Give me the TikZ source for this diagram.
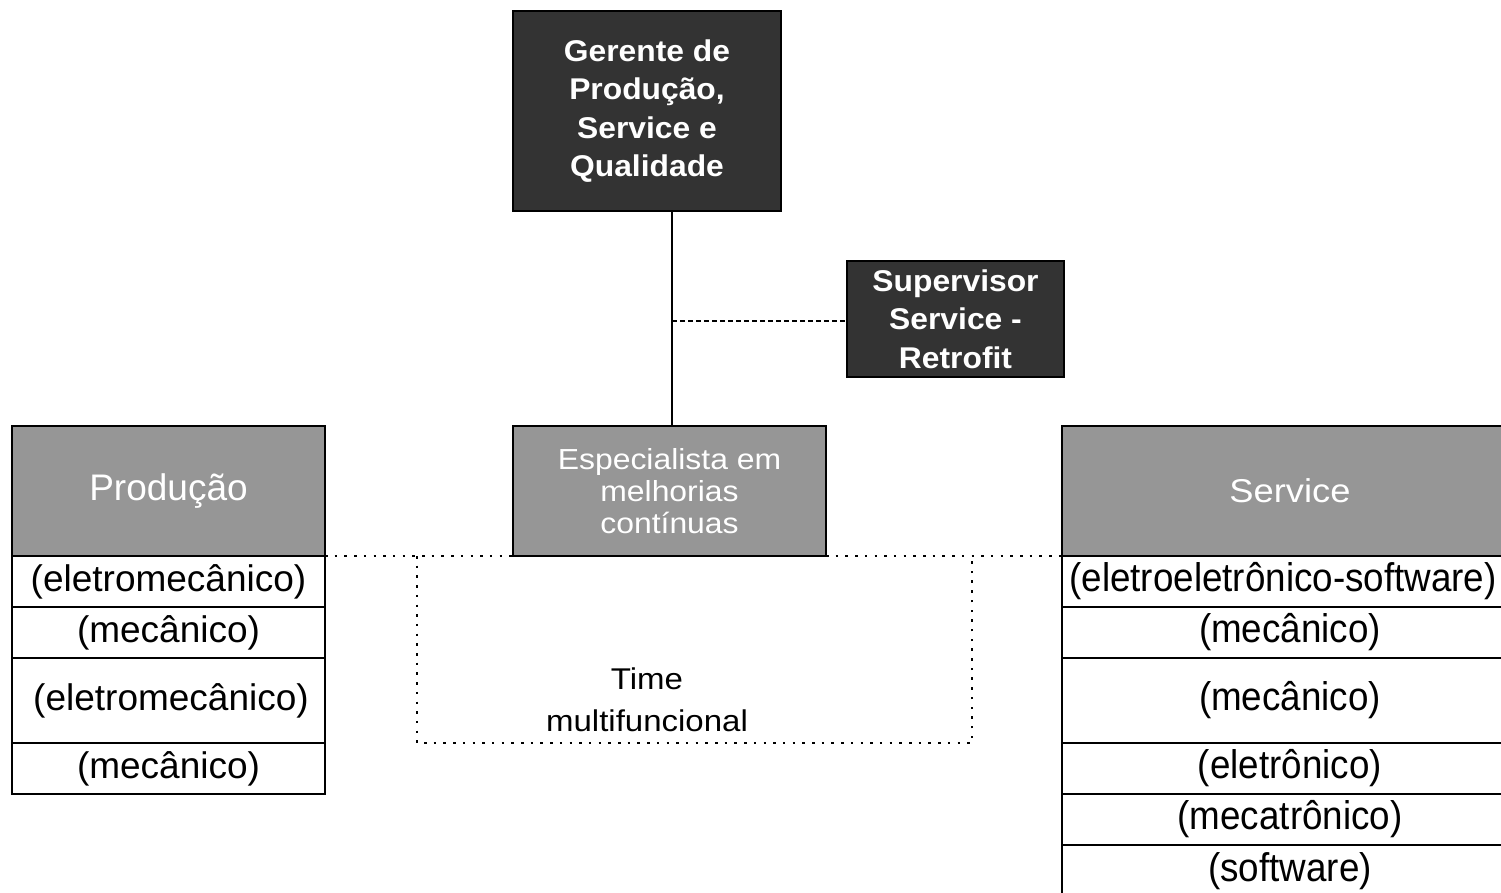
\documentclass[tikz,border=0pt]{standalone}
\usepackage{fontspec}
\setmainfont{Liberation Sans}
\newfontfamily\fW{Liberation Sans}[FakeStretch=1.1]
\newfontfamily\fB{Liberation Sans}[FakeStretch=1.06]
\newfontfamily\fN{Liberation Sans}[FakeStretch=0.92]
\definecolor{darkfill}{HTML}{333333}
\definecolor{midfill}{HTML}{969696}
\begin{document}
\begin{tikzpicture}[x=1pt,y=-1pt,
  box/.style={draw=black,line width=2pt,inner sep=0pt,outer sep=0pt,anchor=north west,align=center},
  darkbox/.style={box,fill=darkfill,text=white,font=\fB\bfseries\fontsize{30}{38.3}\selectfont},
  midbox/.style={box,fill=midfill,text=white},
  lrow/.style={box,fill=white,font=\fontsize{37}{44}\selectfont,minimum width=313pt},
  rrow/.style={box,fill=white,font=\fN\fontsize{40}{48}\selectfont,minimum width=456pt},
  dotline/.style={line width=2.5pt,dash pattern=on 2.5pt off 7.2pt},
  dashline/.style={line width=1.5pt,dash pattern=on 5pt off 3pt},
  solidline/.style={line width=2.5pt}
]
\useasboundingbox (0,0) rectangle (1501,893);
\clip (0,0) rectangle (1501,893);
\fill[white] (0,0) rectangle (1501,893);

% top boxes
\node[darkbox,minimum width=268pt,minimum height=200pt] (ger) at (513,11) {Gerente de\\Produção,\\Service e\\Qualidade};
\node[darkbox,minimum width=217pt,minimum height=116pt] (sup) at (847,261) {Supervisor\\Service -\\Retrofit};

% headers
\node[midbox,minimum width=313pt,minimum height=130pt,font=\fontsize{37}{44}\selectfont] (prod) at (12,426) {\raisebox{-3pt}{Produção}};
\node[midbox,minimum width=313pt,minimum height=130pt,font=\fW\fontsize{29}{31.7}\selectfont] (esp) at (513,426) {Especialista em\\melhorias\\contínuas};
\node[midbox,minimum width=456pt,minimum height=130pt,font=\fW\fontsize{33}{40}\selectfont] (serv) at (1062,426) {Service};

% left rows
\node[lrow,minimum height=51pt] (l1) at (prod.south west) {(eletromecânico)};
\node[lrow,minimum height=51pt] (l2) at (l1.south west) {(mecânico)};
\node[lrow,minimum height=85pt] (l3) at (l2.south west) {\hspace*{5pt}(eletromecânico)};
\node[lrow,minimum height=51pt] (l4) at (l3.south west) {(mecânico)};

% right rows
\node[rrow,minimum height=51pt] (r1) at (serv.south west) {\hspace*{-14pt}(eletroeletrônico-software)};
\node[rrow,minimum height=51pt] (r2) at (r1.south west) {(mecânico)};
\node[rrow,minimum height=85pt] (r3) at (r2.south west) {(mecânico)};
\node[rrow,minimum height=51pt] (r4) at (r3.south west) {(eletrônico)};
\node[rrow,minimum height=51pt] (r5) at (r4.south west) {(mecatrônico)};
\node[rrow,minimum height=52pt] (r6) at (r5.south west) {(software)};

% connectors
\coordinate (j) at (672,321);
\draw[solidline] (ger.south -| j) -- (esp.north -| j);
\draw[dashline] (j) -- (sup.west |- j);

% dotted team box
\coordinate (tl) at (417,556);
\coordinate (br) at (972,743);
\draw[dotline] (prod.south east) -- (esp.south west);
\draw[dotline] (esp.south east) -- (serv.south west);
\draw[dotline] (tl) |- (br) -- (br |- tl);
\node[font=\fW\fontsize{30}{42}\selectfont,align=center,inner sep=0pt] (time) at (647,700) {Time\\multifuncional};
\end{tikzpicture}
\end{document}
